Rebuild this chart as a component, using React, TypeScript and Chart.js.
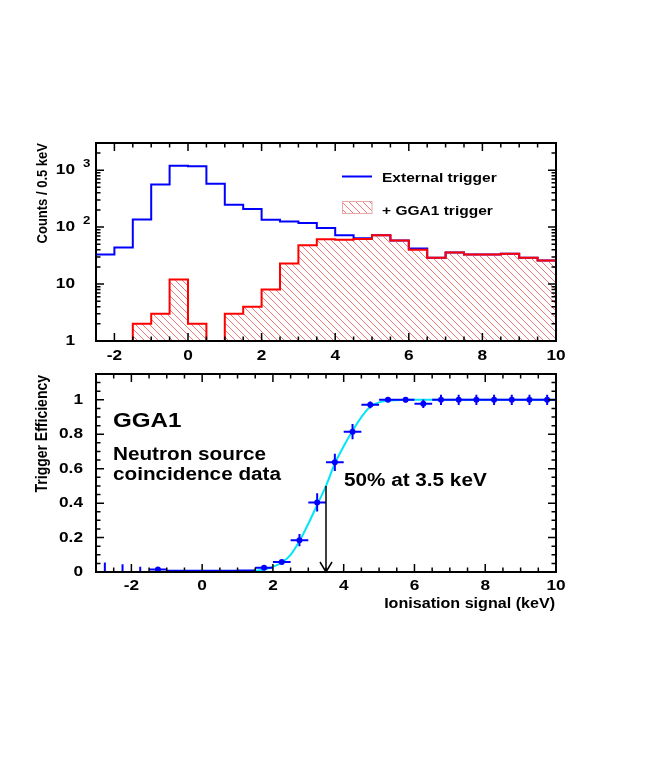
import { useEffect, useRef } from 'react';
import { Chart, registerables } from 'chart.js';

Chart.register(...registerables);

// ---- top panel: counts per 0.5 keV bin (bin lower edges) ----
const binStarts = [-2.5, -2, -1.5, -1, -0.5, 0, 0.5, 1, 1.5, 2, 2.5, 3, 3.5, 4, 4.5, 5, 5.5, 6, 6.5, 7, 7.5, 8, 8.5, 9, 9.5];
const binEnd = 10;
const externalCounts = [33, 44, 136, 562, 1200, 1170, 577, 246, 209, 134, 126, 118, 96, 72, 64, 72, 58, 42, 29, 36, 33, 33, 34, 29, 26];
const gga1Counts = [0, 0, 2, 3, 12, 2, 0, 3, 4, 8, 23, 48, 61, 60, 62, 72, 58, 40, 29, 36, 33, 33, 34, 29, 26];

const topXLabels = [-2, 0, 2, 4, 6, 8, 10];
const topYDecades = [1, 10, 100, 1000];
const TOP_Y_MIN = 1;
const TOP_Y_MAX = 3000;

// ---- bottom panel: trigger efficiency ----
const effX = [-2.75, -2.25, -1.75, -1.25, -0.75, -0.25, 0.25, 0.75, 1.25, 1.75, 2.25, 2.75, 3.25, 3.75, 4.25, 4.75, 5.25, 5.75, 6.25, 6.75, 7.25, 7.75, 8.25, 8.75, 9.25, 9.75];
const effY = [0, 0, 0, 0.015, 0.007, 0.007, 0.007, 0.007, 0.008, 0.025, 0.058, 0.185, 0.404, 0.637, 0.815, 0.971, 1, 1, 0.977, 1, 1, 1, 1, 1, 1, 1];
const effXErr = [0, 0, 0, 0.25, 0.25, 0.25, 0.25, 0.25, 0.25, 0.25, 0.25, 0.25, 0.25, 0.25, 0.25, 0.25, 0.25, 0.25, 0.25, 0.25, 0.25, 0.25, 0.25, 0.25, 0.25, 0.25];
const effYErr = [0.055, 0.045, 0.03, 0.01, 0, 0, 0, 0, 0.004, 0.008, 0.012, 0.035, 0.053, 0.05, 0.044, 0.02, 0.005, 0.015, 0.025, 0.03, 0.03, 0.03, 0.03, 0.03, 0.03, 0.03];
const effRadius = [0, 0, 0, 3, 0, 0, 0, 0, 0, 3, 3, 3, 3, 3, 3, 3, 3, 3, 3, 3, 3, 3, 3, 3, 3, 3];

const fitX = [0.75, 1.25, 1.75, 2, 2.25, 2.5, 2.75, 3, 3.25, 3.5, 3.75, 4, 4.25, 4.5, 4.75, 5, 5.5, 6, 7, 8, 9, 10];
const fitY = [0, 0.004, 0.015, 0.03, 0.055, 0.1, 0.18, 0.28, 0.39, 0.5, 0.63, 0.73, 0.82, 0.9, 0.96, 0.985, 0.998, 1, 1, 1, 1, 1];

const bottomXLabels = [-2, 0, 2, 4, 6, 8, 10];
const bottomYLabels = [0, 0.2, 0.4, 0.6, 0.8, 1];
const ARROW_X = 3.5;
const ARROW_TOP = 0.5;

const BLUE = '#0000ff';
const RED = '#ff0000';
const CYAN = '#00e6f6';
const FONT = '"Liberation Sans", Arial, Helvetica, sans-serif';
const SX = 1.15; // the original text is a bit wider than Arial
const BOTTOM_TOP = 366; // page y where the lower canvas starts

function range(from: number, to: number, step: number) {
  const out: number[] = [];
  for (let v = from; v <= to + 1e-9; v += step) out.push(Math.round(v * 1000) / 1000);
  return out;
}

function label(ctx: CanvasRenderingContext2D, s: string, x: number, y: number, size: number,
  align: CanvasTextAlign = 'left', baseline: CanvasTextBaseline = 'alphabetic', rotate = false) {
  ctx.save();
  ctx.translate(x, y);
  ctx.scale(SX, 1);
  if (rotate) ctx.rotate(-Math.PI / 2);
  ctx.font = `bold ${size}px ${FONT}`;
  ctx.textAlign = align;
  ctx.textBaseline = baseline;
  ctx.fillStyle = '#000';
  ctx.fillText(s, 0, 0);
  ctx.restore();
}

function frameAndTicks(chart: any, xMajor: number[], xMinor: number[], yMajor: number[], yMinor: number[]) {
  const ctx: CanvasRenderingContext2D = chart.ctx;
  const { left, right, top, bottom } = chart.chartArea;
  const xs = chart.scales.x;
  const ys = chart.scales.y;
  ctx.save();
  ctx.strokeStyle = '#000';
  ctx.lineWidth = 1.5;
  ctx.beginPath();
  const xt = (v: number, len: number) => {
    const p = xs.getPixelForValue(v);
    if (p < left + 1 || p > right - 1) return;
    ctx.moveTo(p, bottom); ctx.lineTo(p, bottom - len);
    ctx.moveTo(p, top); ctx.lineTo(p, top + len);
  };
  const yt = (v: number, len: number) => {
    const p = ys.getPixelForValue(v);
    if (p < top + 1 || p > bottom - 1) return;
    ctx.moveTo(left, p); ctx.lineTo(left + len, p);
    ctx.moveTo(right, p); ctx.lineTo(right - len, p);
  };
  xMinor.forEach((v) => xt(v, 4.5));
  xMajor.forEach((v) => xt(v, 8));
  yMinor.forEach((v) => yt(v, 4.5));
  yMajor.forEach((v) => yt(v, 8));
  ctx.stroke();
  ctx.lineWidth = 2;
  ctx.strokeRect(left, top, right - left, bottom - top);
  ctx.restore();
}

function makeHatch(): CanvasPattern | string {
  const c = document.createElement('canvas');
  const s = 7;
  c.width = s;
  c.height = s;
  const g = c.getContext('2d');
  if (!g) return 'rgba(255,0,0,0.2)';
  g.strokeStyle = '#f47878';
  g.lineWidth = 1;
  g.beginPath();
  g.moveTo(-1, -1); g.lineTo(s + 1, s + 1);
  g.moveTo(s - 1, -1); g.lineTo(s + 1, 1);
  g.moveTo(-1, s - 1); g.lineTo(1, s + 1);
  g.stroke();
  return g.createPattern(c, 'repeat') ?? 'rgba(255,0,0,0.2)';
}

export default function App() {
  const topRef = useRef<HTMLCanvasElement>(null);
  const bottomRef = useRef<HTMLCanvasElement>(null);

  useEffect(() => {
    if (!topRef.current || !bottomRef.current) return;
    const hatch = makeHatch();

    const histPoints = (counts: number[]) => [
      ...binStarts.map((x, i) => ({ x, y: counts[i] > 0 ? counts[i] : TOP_Y_MIN })),
      { x: binEnd, y: counts[counts.length - 1] },
    ];

    const topMinorY: number[] = [];
    topYDecades.forEach((d) => {
      for (let m = 2; m <= 9; m++) if (d * m <= TOP_Y_MAX) topMinorY.push(d * m);
    });

    const topDecor = {
      id: 'topDecor',
      afterDraw(chart: any) {
        const ctx: CanvasRenderingContext2D = chart.ctx;
        const xs = chart.scales.x;
        const ys = chart.scales.y;
        frameAndTicks(chart, topXLabels, range(-2.5, 10, 0.5), topYDecades, topMinorY);

        topXLabels.forEach((v) => label(ctx, String(v), xs.getPixelForValue(v), 356, 15, 'center', 'middle'));
        topYDecades.forEach((v) => {
          const p = ys.getPixelForValue(v);
          if (v < 100) {
            label(ctx, String(v), 75, p, 15, 'right', 'middle');
          } else {
            label(ctx, '10', 75, p, 15, 'right', 'middle');
            label(ctx, String(Math.round(Math.log10(v))), 83, p - 6, 11.5, 'left', 'middle');
          }
        });
        label(ctx, 'Counts / 0.5 keV', 47, chart.chartArea.top, 13, 'right', 'alphabetic', true);

        // legend
        ctx.save();
        ctx.strokeStyle = BLUE;
        ctx.lineWidth = 2;
        ctx.beginPath();
        ctx.moveTo(342, 176.5);
        ctx.lineTo(372, 176.5);
        ctx.stroke();
        ctx.fillStyle = hatch;
        ctx.fillRect(342, 201.5, 30, 12);
        ctx.strokeStyle = '#e8a8a8';
        ctx.lineWidth = 1;
        ctx.strokeRect(342.5, 201.5, 29.5, 12);
        ctx.restore();
        label(ctx, 'External trigger', 382, 181.5, 13.5);
        label(ctx, '+ GGA1 trigger', 382, 214.5, 13.5);
      },
    };

    const bottomDecor = {
      id: 'bottomDecor',
      afterDraw(chart: any) {
        const ctx: CanvasRenderingContext2D = chart.ctx;
        const xs = chart.scales.x;
        const ys = chart.scales.y;
        const { left, right, top, bottom } = chart.chartArea;
        const Y = (pageY: number) => pageY - BOTTOM_TOP;

        // error bars
        ctx.save();
        ctx.beginPath();
        ctx.rect(left, top, right - left, bottom - top);
        ctx.clip();
        ctx.strokeStyle = BLUE;
        ctx.lineWidth = 2;
        ctx.beginPath();
        effX.forEach((x, i) => {
          const px = xs.getPixelForValue(x);
          const py = ys.getPixelForValue(effY[i]);
          if (effXErr[i] > 0) {
            ctx.moveTo(xs.getPixelForValue(x - effXErr[i]), py);
            ctx.lineTo(xs.getPixelForValue(x + effXErr[i]), py);
          }
          if (effYErr[i] > 0) {
            ctx.moveTo(px, ys.getPixelForValue(effY[i] - effYErr[i]));
            ctx.lineTo(px, ys.getPixelForValue(effY[i] + effYErr[i]));
          }
        });
        ctx.stroke();
        ctx.restore();

        // arrow at 50 %
        const ax = xs.getPixelForValue(ARROW_X);
        const ay = ys.getPixelForValue(ARROW_TOP);
        const ab = ys.getPixelForValue(0);
        ctx.save();
        ctx.strokeStyle = '#000';
        ctx.lineWidth = 1.5;
        ctx.beginPath();
        ctx.moveTo(ax, ay);
        ctx.lineTo(ax, ab);
        ctx.moveTo(ax - 6, ab - 10);
        ctx.lineTo(ax, ab);
        ctx.lineTo(ax + 6, ab - 10);
        ctx.stroke();
        ctx.restore();

        frameAndTicks(chart, bottomXLabels, range(-3, 10, 0.5), bottomYLabels, range(0, 1.15, 0.05));

        bottomXLabels.forEach((v) => label(ctx, String(v), xs.getPixelForValue(v), Y(586), 15, 'center', 'middle'));
        bottomYLabels.forEach((v) => label(ctx, String(v), 83, ys.getPixelForValue(v), 15, 'right', 'middle'));
        label(ctx, 'Trigger Efficiency', 47, top + 1, 14, 'right', 'alphabetic', true);
        label(ctx, 'Ionisation signal (keV)', right - 1, Y(608), 14, 'right');

        label(ctx, 'GGA1', 113, Y(426.5), 21);
        label(ctx, 'Neutron source', 113, Y(460), 18);
        label(ctx, 'coincidence data', 113, Y(480), 18);
        label(ctx, '50% at 3.5 keV', 344, Y(486), 18);
      },
    };

    const noAxis = {
      grid: { display: false, drawTicks: false },
      border: { display: false },
      ticks: { display: false },
    };

    const top = new Chart(topRef.current, {
      type: 'line',
      data: {
        datasets: [
          {
            label: '+ GGA1 trigger',
            data: histPoints(gga1Counts),
            stepped: true,
            borderColor: RED,
            borderWidth: 2,
            backgroundColor: hatch as any,
            fill: 'start',
            pointRadius: 0,
          },
          {
            label: 'External trigger',
            data: histPoints(externalCounts),
            stepped: true,
            borderColor: BLUE,
            borderWidth: 2,
            fill: false,
            pointRadius: 0,
          },
        ],
      },
      options: {
        animation: false,
        responsive: true,
        maintainAspectRatio: false,
        events: [],
        layout: { padding: { top: 143, right: 98, left: 0, bottom: 0 } },
        plugins: { legend: { display: false }, tooltip: { enabled: false } },
        scales: {
          x: { type: 'linear', min: -2.5, max: 10, ...noAxis, afterFit: (s: any) => { s.height = 25; } },
          y: { type: 'logarithmic', min: TOP_Y_MIN, max: TOP_Y_MAX, ...noAxis, afterFit: (s: any) => { s.width = 96; } },
        },
      },
      plugins: [topDecor],
    });

    const bottom = new Chart(bottomRef.current, {
      type: 'line',
      data: {
        datasets: [
          {
            type: 'scatter',
            label: 'data',
            data: effX.map((x, i) => ({ x, y: effY[i] })),
            pointRadius: effRadius,
            pointBackgroundColor: BLUE,
            pointBorderWidth: 0,
            showLine: false,
          },
          {
            type: 'line',
            label: 'fit',
            data: fitX.map((x, i) => ({ x, y: fitY[i] })),
            borderColor: CYAN,
            borderWidth: 2,
            pointRadius: 0,
            cubicInterpolationMode: 'monotone',
            fill: false,
          },
        ],
      },
      options: {
        animation: false,
        responsive: true,
        maintainAspectRatio: false,
        events: [],
        layout: { padding: { top: 8, right: 98, left: 0, bottom: 0 } },
        plugins: { legend: { display: false }, tooltip: { enabled: false } },
        scales: {
          x: { type: 'linear', min: -3, max: 10, ...noAxis, afterFit: (s: any) => { s.height = 191; } },
          y: { type: 'linear', min: 0, max: 1.15, ...noAxis, afterFit: (s: any) => { s.width = 96; } },
        },
      },
      plugins: [bottomDecor],
    });

    return () => {
      top.destroy();
      bottom.destroy();
    };
  }, []);

  return (
    <div style={{ position: 'fixed', left: 0, top: 0, width: 654, height: 763, background: '#fff' }}>
      <div style={{ position: 'absolute', left: 0, top: 0, width: 654, height: BOTTOM_TOP }}>
        <canvas ref={topRef} />
      </div>
      <div style={{ position: 'absolute', left: 0, top: BOTTOM_TOP, width: 654, height: 763 - BOTTOM_TOP }}>
        <canvas ref={bottomRef} />
      </div>
    </div>
  );
}
